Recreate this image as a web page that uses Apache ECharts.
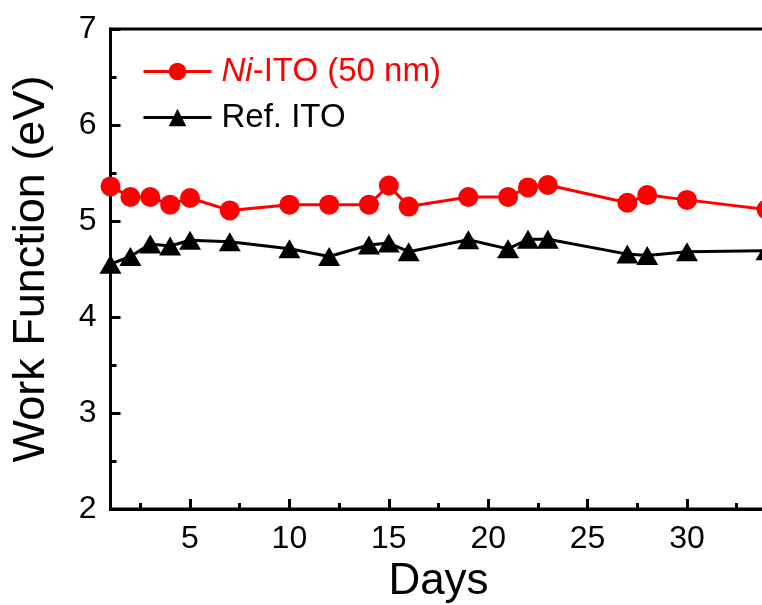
<!DOCTYPE html>
<html>
<head>
<meta charset="utf-8">
<script src="https://cdn.jsdelivr.net/npm/echarts@6/dist/echarts.min.js"></script>
<style>html,body{margin:0;padding:0;background:#fff;}#c{width:762px;height:605px;}</style>
</head>
<body>
<div id="c"></div>
<script>
var days = [1, 2, 3, 4, 5, 7, 10, 12, 14, 15, 16, 19, 21, 22, 23, 27, 28, 30, 34];
var niIto = [5.36, 5.25, 5.25, 5.17, 5.24, 5.11, 5.17, 5.17, 5.17, 5.37, 5.15, 5.25, 5.25, 5.35, 5.375, 5.19, 5.27, 5.22, 5.12];
var refIto = [4.55, 4.63, 4.76, 4.74, 4.80, 4.785, 4.71, 4.63, 4.75, 4.77, 4.68, 4.805, 4.71, 4.81, 4.81, 4.655, 4.64, 4.68, 4.69];
var xTicks = [5, 10, 15, 20, 25, 30];
var xMinorTicks = [2.5, 7.5, 12.5, 17.5, 22.5, 27.5, 32.5];
var seriesNames = ['Ni-ITO (50 nm)', 'Ref. ITO'];

var FONT = '"Liberation Sans", Arial, sans-serif';
function pairs(xs, ys) { return xs.map(function (x, i) { return [x, ys[i]]; }); }

var chart = echarts.init(document.getElementById('c'), null, {renderer: 'canvas'});
chart.setOption({
  animation: false,
  backgroundColor: '#fff',
  grid: {left: 110.5, top: 29, width: 656, height: 480, outerBoundsMode: 'none', containLabel: false,
    show: true, borderColor: '#000', borderWidth: 3, backgroundColor: 'transparent'},
  legend: {
    orient: 'vertical', left: 142, top: 55, padding: 0, itemWidth: 68, itemHeight: 22, itemGap: 13,
    formatter: function (n) { return n === seriesNames[0] ? '{it|Ni}{rg|-ITO (50 nm)}' : n; },
    lineStyle: {width: 3},
    textStyle: {fontFamily: FONT, fontSize: 33, padding: [0, 0, 0, 5],
      rich: {
        it: {fontFamily: FONT, fontSize: 33, fontStyle: 'italic', color: '#ff0000'},
        rg: {fontFamily: FONT, fontSize: 33, color: '#ff0000'}
      }},
    data: [
      {name: seriesNames[0], textStyle: {color: '#ff0000'}},
      {name: seriesNames[1], textStyle: {color: '#000'}}
    ]
  },
  xAxis: [{
    type: 'value', min: 1, max: 34,
    name: 'Days', nameLocation: 'middle', nameGap: 48,
    nameTextStyle: {fontFamily: FONT, fontSize: 44, color: '#000'},
    axisLine: {show: true, lineStyle: {color: '#000', width: 3}},
    axisTick: {show: true, inside: true, length: 10, lineStyle: {color: '#000', width: 3}, customValues: xTicks},
    axisLabel: {show: true, fontFamily: FONT, fontSize: 32, color: '#000', margin: 14, customValues: xTicks},
    splitLine: {show: false}
  }, {
    type: 'value', min: 1, max: 34, position: 'bottom', gridIndex: 0,
    axisLine: {show: false},
    axisTick: {show: true, inside: true, length: 6, lineStyle: {color: '#000', width: 3}, customValues: xMinorTicks},
    axisLabel: {show: false, customValues: xMinorTicks},
    splitLine: {show: false}
  }],
  yAxis: {
    type: 'value', min: 2, max: 7, interval: 1,
    name: 'Work Function (eV)', nameLocation: 'middle', nameGap: 56,
    nameTextStyle: {fontFamily: FONT, fontSize: 45, color: '#000'},
    axisLine: {show: true, lineStyle: {color: '#000', width: 3}},
    axisTick: {show: true, inside: true, length: 10, lineStyle: {color: '#000', width: 3}},
    minorTick: {show: true, splitNumber: 2, length: 6, lineStyle: {color: '#000', width: 3}},
    axisLabel: {show: true, fontFamily: FONT, fontSize: 32, color: '#000', margin: 14},
    splitLine: {show: false}, minorSplitLine: {show: false}
  },
  series: [{
    name: seriesNames[0], type: 'line', data: pairs(days, niIto),
    symbol: 'circle', symbolSize: 20, clip: false,
    lineStyle: {color: '#ff0000', width: 3}, itemStyle: {color: '#ff0000'}
  }, {
    name: seriesNames[1], type: 'line', data: pairs(days, refIto),
    symbol: 'triangle', symbolSize: [22, 19], clip: false,
    lineStyle: {color: '#000', width: 3}, itemStyle: {color: '#000'}
  }]
});
</script>
</body>
</html>
